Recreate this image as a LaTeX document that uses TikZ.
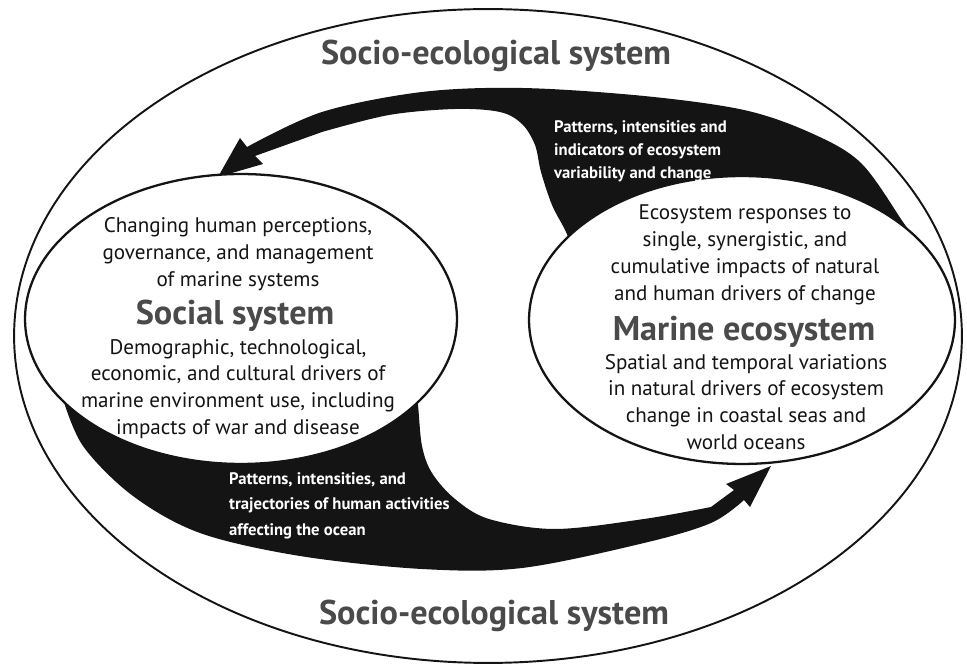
\documentclass[tikz,border=0pt]{standalone}
\usepackage{fontspec}
\setmainfont{PT Sans}
\usetikzlibrary{shapes.geometric}
\definecolor{ink}{HTML}{141414}
\definecolor{slate}{HTML}{4A4A4A}

\begin{document}
\begin{tikzpicture}[x=0.02cm, y=-0.02cm,
  realm/.style={draw=ink, line width=1.1pt, ellipse, inner sep=0pt},
  system/.style={draw=ink, fill=white, line width=1.3pt, ellipse, inner sep=0pt},
  prose/.style={text=ink, align=center, font=\fontsize{12}{15.3}\selectfont},
  headline/.style={text=slate, font=\bfseries\fontsize{19.5}{21}\selectfont},
  flux/.style={fill=ink},
  fluxlabel/.style={text=white, align=left, anchor=north west,
    font=\bfseries\fontsize{9.5}{13.2}\selectfont},
]
\useasboundingbox (0,0) rectangle (967,668);

\node[realm, minimum width=18.96cm, minimum height=13.08cm] (ses) at (488,336) {};
\node[headline, anchor=base] (sestop) at (496,65) {Socio-ecological system};
\node[headline, anchor=base] (sesbot) at (494,624) {Socio-ecological system};

% feedback from the ecosystem to society, tail hidden under the ellipse
\fill[flux] (925,265)
  -- plot[smooth, tension=0.55] coordinates {(914,238) (903,222) (861,163) (811,133) (744,110)
       (644,96) (522,88) (422,92) (322,112) (247,147)}
  -- (240,138) -- (218,177) -- (263,164) -- (255,156)
  -- plot[smooth, tension=0.55] coordinates {(322,132) (389,115) (455,109) (500,112)
       (522,124) (535,145) (541,172) (552,205) (566,232) (578,262)}
  -- cycle;

% pressure from society on the ecosystem
\fill[flux] (52,372)
  -- plot[smooth, tension=0.55] coordinates {(62,396) (83,446) (133,496) (200,533) (300,556)
       (422,569) (522,568) (644,543) (711,523) (744,500)}
  -- (750,507) -- (771,466) -- (726,484) -- (734,490)
  -- plot[smooth, tension=0.55] coordinates {(711,507) (644,519) (555,529) (489,519) (455,499)
       (432,473) (422,446) (418,405) (414,372)}
  -- cycle;

\node[system, minimum width=8.64cm, minimum height=5.8cm] (soc) at (241,319) {};
\node[system, minimum width=8.52cm, minimum height=5.76cm] (mar) at (742,320) {};

\node[prose] (socup) at (238,254.5) {Changing human perceptions,\\governance, and management\\of marine systems};
\node[headline, anchor=base] (soctitle) at (235,325) {Social system};
\node[prose] (soclow) at (238,389) {Demographic, technological,\\economic, and cultural drivers of\\marine environment use, including\\impacts of war and disease};

\node[prose] (marup) at (745,255) {Ecosystem responses to\\single, synergistic, and\\cumulative impacts of natural\\and human drivers of change};
\node[headline, anchor=base] (martitle) at (744,341) {Marine ecosystem};
\node[prose] (marlow) at (746,402) {Spatial and temporal variations\\in natural drivers of ecosystem\\change in coastal seas and\\world oceans};

\node[fluxlabel] (fluxup) at (548,114) {Patterns, intensities and\\indicators of ecosystem\\variability and change};
\node[fluxlabel, font=\bfseries\fontsize{9.5}{14.5}\selectfont] (fluxdown) at (223,466) {Patterns, intensities, and\\trajectories of human activities\\affecting the ocean};
\end{tikzpicture}
\end{document}
